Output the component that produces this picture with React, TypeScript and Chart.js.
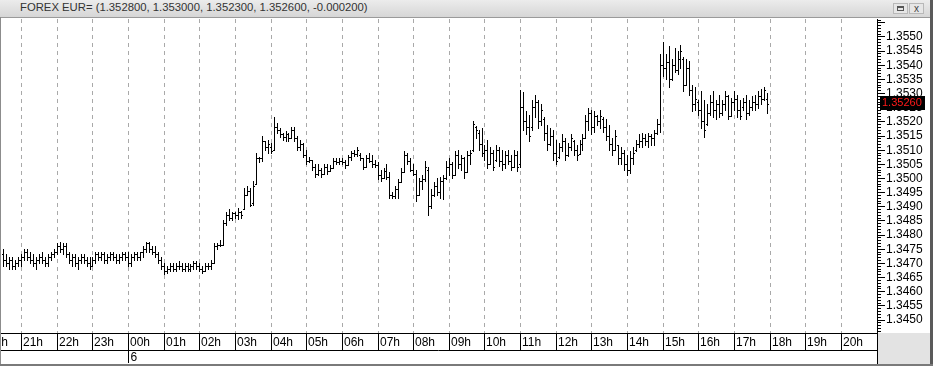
import { useEffect, useRef } from 'react';
import { Chart, registerables } from 'chart.js';

Chart.register(...registerables);

// [open, high, low, close] – 5 minute bars, EUR= forex
type Bar = [number, number, number, number];

const bars20h: Bar[] = [
  [1.34730, 1.34750, 1.34690, 1.34710],
  [1.34710, 1.34730, 1.34690, 1.34700],
  [1.34700, 1.34720, 1.34680, 1.34710],
  [1.34710, 1.34720, 1.34680, 1.34690],
  [1.34690, 1.34710, 1.34680, 1.34700],
  [1.34700, 1.34720, 1.34690, 1.34710],
];
const bars21h: Bar[] = [
  [1.34710, 1.34730, 1.34690, 1.34720],
  [1.34720, 1.34750, 1.34710, 1.34740],
  [1.34740, 1.34750, 1.34710, 1.34720],
  [1.34720, 1.34740, 1.34700, 1.34710],
  [1.34710, 1.34730, 1.34690, 1.34700],
  [1.34700, 1.34720, 1.34680, 1.34710],
  [1.34710, 1.34730, 1.34700, 1.34720],
  [1.34720, 1.34740, 1.34700, 1.34710],
  [1.34710, 1.34720, 1.34690, 1.34700],
  [1.34700, 1.34730, 1.34690, 1.34720],
  [1.34720, 1.34740, 1.34710, 1.34730],
  [1.34730, 1.34750, 1.34720, 1.34740],
];
const bars22h: Bar[] = [
  [1.34740, 1.34770, 1.34730, 1.34760],
  [1.34760, 1.34775, 1.34740, 1.34750],
  [1.34750, 1.34770, 1.34730, 1.34760],
  [1.34760, 1.34770, 1.34720, 1.34730],
  [1.34730, 1.34740, 1.34700, 1.34710],
  [1.34710, 1.34730, 1.34690, 1.34720],
  [1.34720, 1.34730, 1.34690, 1.34700],
  [1.34700, 1.34720, 1.34680, 1.34710],
  [1.34710, 1.34730, 1.34700, 1.34720],
  [1.34720, 1.34730, 1.34700, 1.34710],
  [1.34710, 1.34720, 1.34690, 1.34700],
  [1.34700, 1.34720, 1.34680, 1.34690],
];
const bars23h: Bar[] = [
  [1.34690, 1.34720, 1.34690, 1.34710],
  [1.34710, 1.34740, 1.34700, 1.34730],
  [1.34730, 1.34740, 1.34710, 1.34720],
  [1.34720, 1.34740, 1.34710, 1.34730],
  [1.34730, 1.34740, 1.34700, 1.34710],
  [1.34710, 1.34730, 1.34700, 1.34720],
  [1.34720, 1.34740, 1.34710, 1.34730],
  [1.34730, 1.34740, 1.34710, 1.34720],
  [1.34720, 1.34730, 1.34700, 1.34710],
  [1.34710, 1.34730, 1.34700, 1.34720],
  [1.34720, 1.34740, 1.34710, 1.34730],
  [1.34730, 1.34740, 1.34710, 1.34720],
];
const bars00h: Bar[] = [
  [1.34720, 1.34740, 1.34690, 1.34700],
  [1.34700, 1.34730, 1.34690, 1.34720],
  [1.34720, 1.34740, 1.34710, 1.34730],
  [1.34730, 1.34740, 1.34710, 1.34720],
  [1.34720, 1.34740, 1.34710, 1.34740],
  [1.34740, 1.34760, 1.34720, 1.34750],
  [1.34750, 1.34775, 1.34740, 1.34770],
  [1.34770, 1.34775, 1.34740, 1.34750],
  [1.34750, 1.34760, 1.34730, 1.34740],
  [1.34740, 1.34760, 1.34720, 1.34730],
  [1.34730, 1.34740, 1.34700, 1.34710],
  [1.34710, 1.34720, 1.34680, 1.34690],
];
const bars01h: Bar[] = [
  [1.34690, 1.34700, 1.34660, 1.34670],
  [1.34670, 1.34690, 1.34665, 1.34680],
  [1.34680, 1.34700, 1.34670, 1.34690],
  [1.34690, 1.34700, 1.34670, 1.34680],
  [1.34680, 1.34700, 1.34670, 1.34690],
  [1.34690, 1.34705, 1.34680, 1.34690],
  [1.34690, 1.34700, 1.34670, 1.34680],
  [1.34680, 1.34700, 1.34670, 1.34690],
  [1.34690, 1.34700, 1.34670, 1.34680],
  [1.34680, 1.34695, 1.34670, 1.34690],
  [1.34690, 1.34705, 1.34680, 1.34700],
  [1.34700, 1.34705, 1.34680, 1.34690],
];
const bars02h: Bar[] = [
  [1.34690, 1.34700, 1.34670, 1.34680],
  [1.34680, 1.34690, 1.34665, 1.34670],
  [1.34670, 1.34700, 1.34670, 1.34690],
  [1.34690, 1.34700, 1.34680, 1.34690],
  [1.34690, 1.34710, 1.34680, 1.34700],
  [1.34700, 1.34770, 1.34700, 1.34760],
  [1.34760, 1.34770, 1.34750, 1.34765],
  [1.34765, 1.34780, 1.34760, 1.34765],
  [1.34765, 1.34850, 1.34765, 1.34840],
  [1.34840, 1.34880, 1.34835, 1.34870],
  [1.34870, 1.34890, 1.34850, 1.34860],
  [1.34860, 1.34880, 1.34850, 1.34875],
];
const bars03h: Bar[] = [
  [1.34875, 1.34880, 1.34860, 1.34870],
  [1.34870, 1.34895, 1.34855, 1.34880],
  [1.34880, 1.34885, 1.34860, 1.34870],
  [1.34890, 1.34965, 1.34890, 1.34940],
  [1.34940, 1.34970, 1.34940, 1.34955],
  [1.34955, 1.34965, 1.34900, 1.34905],
  [1.34910, 1.34990, 1.34905, 1.34970],
  [1.34980, 1.35090, 1.34980, 1.35070],
  [1.35070, 1.35075, 1.35055, 1.35070],
  [1.35070, 1.35150, 1.35060, 1.35130],
  [1.35130, 1.35130, 1.35100, 1.35110],
  [1.35110, 1.35135, 1.35090, 1.35120],
];
const bars04h: Bar[] = [
  [1.35110, 1.35125, 1.35090, 1.35095],
  [1.35100, 1.35214, 1.35100, 1.35180],
  [1.35180, 1.35195, 1.35160, 1.35170],
  [1.35170, 1.35178, 1.35145, 1.35155],
  [1.35155, 1.35160, 1.35136, 1.35145],
  [1.35145, 1.35165, 1.35130, 1.35155],
  [1.35155, 1.35158, 1.35130, 1.35140],
  [1.35140, 1.35180, 1.35140, 1.35170],
  [1.35170, 1.35180, 1.35130, 1.35140],
  [1.35140, 1.35150, 1.35100, 1.35110],
  [1.35110, 1.35135, 1.35100, 1.35120],
  [1.35120, 1.35125, 1.35075, 1.35080],
];
const bars05h: Bar[] = [
  [1.35080, 1.35100, 1.35050, 1.35060],
  [1.35060, 1.35075, 1.35055, 1.35065],
  [1.35065, 1.35065, 1.35030, 1.35040],
  [1.35040, 1.35050, 1.35005, 1.35015],
  [1.35015, 1.35048, 1.35012, 1.35030],
  [1.35030, 1.35037, 1.35005, 1.35015],
  [1.35015, 1.35048, 1.35015, 1.35040],
  [1.35040, 1.35050, 1.35015, 1.35025],
  [1.35025, 1.35045, 1.35023, 1.35035],
  [1.35035, 1.35070, 1.35035, 1.35060],
  [1.35060, 1.35070, 1.35048, 1.35055],
  [1.35055, 1.35070, 1.35048, 1.35060],
];
const bars06h: Bar[] = [
  [1.35060, 1.35070, 1.35050, 1.35055],
  [1.35055, 1.35065, 1.35037, 1.35045],
  [1.35045, 1.35083, 1.35045, 1.35075],
  [1.35075, 1.35097, 1.35065, 1.35090],
  [1.35090, 1.35100, 1.35076, 1.35085],
  [1.35085, 1.35108, 1.35076, 1.35100],
  [1.35080, 1.35090, 1.35065, 1.35070],
  [1.35070, 1.35070, 1.35033, 1.35040],
  [1.35040, 1.35080, 1.35040, 1.35070],
  [1.35070, 1.35090, 1.35055, 1.35060],
  [1.35060, 1.35083, 1.35040, 1.35050],
  [1.35050, 1.35065, 1.35040, 1.35045],
];
const bars07h: Bar[] = [
  [1.35045, 1.35055, 1.34995, 1.35010],
  [1.35010, 1.35030, 1.34990, 1.35000],
  [1.35000, 1.35037, 1.35000, 1.35025],
  [1.35025, 1.35048, 1.34995, 1.35005],
  [1.35005, 1.35020, 1.34930, 1.34940],
  [1.34940, 1.34949, 1.34931, 1.34935],
  [1.34935, 1.34970, 1.34930, 1.34960],
  [1.34960, 1.34995, 1.34930, 1.34985],
  [1.34985, 1.35035, 1.34985, 1.35020],
  [1.35020, 1.35094, 1.35020, 1.35080],
  [1.35080, 1.35090, 1.35048, 1.35060],
  [1.35060, 1.35070, 1.35023, 1.35030],
];
const bars08h: Bar[] = [
  [1.35030, 1.35048, 1.35010, 1.35015],
  [1.35015, 1.35030, 1.34917, 1.34940],
  [1.34940, 1.35000, 1.34940, 1.34990],
  [1.34990, 1.35010, 1.34960, 1.34995],
  [1.34995, 1.35060, 1.34990, 1.35040],
  [1.35030, 1.35040, 1.34870, 1.34900],
  [1.34900, 1.34960, 1.34895, 1.34940],
  [1.34940, 1.34985, 1.34935, 1.34970],
  [1.34970, 1.35000, 1.34940, 1.34950],
  [1.34950, 1.35005, 1.34930, 1.34990],
  [1.34990, 1.35010, 1.34925, 1.35000],
  [1.35000, 1.35060, 1.34995, 1.35040],
];
const bars09h: Bar[] = [
  [1.35040, 1.35070, 1.35010, 1.35050],
  [1.35050, 1.35058, 1.35000, 1.35010],
  [1.35010, 1.35094, 1.35010, 1.35080],
  [1.35080, 1.35100, 1.35037, 1.35050],
  [1.35050, 1.35083, 1.35030, 1.35070],
  [1.35070, 1.35075, 1.35000, 1.35020],
  [1.35020, 1.35094, 1.35020, 1.35080],
  [1.35080, 1.35100, 1.35048, 1.35090],
  [1.35100, 1.35200, 1.35094, 1.35190],
  [1.35180, 1.35185, 1.35140, 1.35170],
  [1.35160, 1.35170, 1.35100, 1.35120],
  [1.35120, 1.35175, 1.35076, 1.35090],
];
const bars10h: Bar[] = [
  [1.35090, 1.35118, 1.35065, 1.35100],
  [1.35100, 1.35136, 1.35037, 1.35050],
  [1.35050, 1.35108, 1.35048, 1.35090],
  [1.35090, 1.35100, 1.35030, 1.35040],
  [1.35065, 1.35118, 1.35060, 1.35100],
  [1.35100, 1.35108, 1.35044, 1.35060],
  [1.35060, 1.35100, 1.35030, 1.35050],
  [1.35050, 1.35094, 1.35037, 1.35080],
  [1.35080, 1.35100, 1.35048, 1.35060],
  [1.35060, 1.35083, 1.35030, 1.35040],
  [1.35040, 1.35100, 1.35040, 1.35080],
  [1.35080, 1.35094, 1.35023, 1.35040],
];
const bars11h: Bar[] = [
  [1.35050, 1.35310, 1.35040, 1.35250],
  [1.35250, 1.35304, 1.35170, 1.35200],
  [1.35200, 1.35235, 1.35154, 1.35180],
  [1.35180, 1.35224, 1.35130, 1.35150],
  [1.35180, 1.35277, 1.35170, 1.35250],
  [1.35250, 1.35295, 1.35214, 1.35270],
  [1.35270, 1.35277, 1.35178, 1.35200],
  [1.35200, 1.35260, 1.35189, 1.35240],
  [1.35210, 1.35214, 1.35136, 1.35160],
  [1.35160, 1.35189, 1.35100, 1.35120],
  [1.35120, 1.35178, 1.35118, 1.35150],
  [1.35150, 1.35170, 1.35065, 1.35090],
];
const bars12h: Bar[] = [
  [1.35090, 1.35136, 1.35048, 1.35060],
  [1.35075, 1.35125, 1.35072, 1.35110],
  [1.35110, 1.35154, 1.35094, 1.35130],
  [1.35130, 1.35143, 1.35065, 1.35080],
  [1.35080, 1.35125, 1.35076, 1.35110],
  [1.35110, 1.35154, 1.35100, 1.35140],
  [1.35130, 1.35136, 1.35083, 1.35100],
  [1.35100, 1.35118, 1.35065, 1.35080],
  [1.35085, 1.35136, 1.35085, 1.35120],
  [1.35120, 1.35154, 1.35100, 1.35140],
  [1.35143, 1.35224, 1.35143, 1.35200],
  [1.35200, 1.35249, 1.35171, 1.35230],
];
const bars13h: Bar[] = [
  [1.35230, 1.35242, 1.35154, 1.35180],
  [1.35180, 1.35235, 1.35164, 1.35220],
  [1.35220, 1.35224, 1.35189, 1.35200],
  [1.35200, 1.35242, 1.35178, 1.35220],
  [1.35210, 1.35214, 1.35164, 1.35180],
  [1.35180, 1.35207, 1.35136, 1.35150],
  [1.35150, 1.35189, 1.35100, 1.35120],
  [1.35120, 1.35143, 1.35083, 1.35100],
  [1.35100, 1.35171, 1.35100, 1.35150],
  [1.35115, 1.35118, 1.35048, 1.35070],
  [1.35070, 1.35108, 1.35048, 1.35090],
  [1.35090, 1.35100, 1.35030, 1.35050],
];
const bars14h: Bar[] = [
  [1.35050, 1.35083, 1.35012, 1.35030],
  [1.35030, 1.35094, 1.35019, 1.35070],
  [1.35070, 1.35108, 1.35048, 1.35090],
  [1.35100, 1.35136, 1.35094, 1.35120],
  [1.35120, 1.35154, 1.35110, 1.35130],
  [1.35130, 1.35160, 1.35111, 1.35140],
  [1.35140, 1.35154, 1.35118, 1.35130],
  [1.35130, 1.35160, 1.35110, 1.35150],
  [1.35150, 1.35154, 1.35118, 1.35140],
  [1.35140, 1.35171, 1.35118, 1.35160],
  [1.35160, 1.35207, 1.35154, 1.35190],
  [1.35190, 1.35437, 1.35161, 1.35400],
];
const bars15h: Bar[] = [
  [1.35400, 1.35479, 1.35359, 1.35390],
  [1.35390, 1.35437, 1.35350, 1.35410],
  [1.35410, 1.35465, 1.35323, 1.35350],
  [1.35350, 1.35419, 1.35348, 1.35400],
  [1.35400, 1.35460, 1.35376, 1.35380],
  [1.35380, 1.35447, 1.35366, 1.35420],
  [1.35420, 1.35470, 1.35390, 1.35450],
  [1.35420, 1.35426, 1.35306, 1.35330],
  [1.35330, 1.35419, 1.35330, 1.35390],
  [1.35390, 1.35412, 1.35295, 1.35310],
  [1.35310, 1.35330, 1.35235, 1.35260],
  [1.35260, 1.35320, 1.35242, 1.35280],
];
const bars16h: Bar[] = [
  [1.35270, 1.35277, 1.35224, 1.35240],
  [1.35240, 1.35306, 1.35178, 1.35200],
  [1.35200, 1.35277, 1.35146, 1.35170],
  [1.35190, 1.35260, 1.35189, 1.35230],
  [1.35230, 1.35295, 1.35224, 1.35270],
  [1.35270, 1.35306, 1.35214, 1.35240],
  [1.35240, 1.35277, 1.35207, 1.35260],
  [1.35260, 1.35295, 1.35214, 1.35230],
  [1.35230, 1.35277, 1.35224, 1.35260],
  [1.35260, 1.35306, 1.35242, 1.35290],
  [1.35290, 1.35295, 1.35207, 1.35220],
  [1.35220, 1.35284, 1.35220, 1.35270],
];
const bars17h: Bar[] = [
  [1.35270, 1.35306, 1.35242, 1.35280],
  [1.35280, 1.35295, 1.35214, 1.35240],
  [1.35240, 1.35277, 1.35207, 1.35220],
  [1.35250, 1.35284, 1.35242, 1.35270],
  [1.35270, 1.35295, 1.35207, 1.35230],
  [1.35230, 1.35277, 1.35224, 1.35250],
  [1.35250, 1.35288, 1.35242, 1.35270],
  [1.35270, 1.35295, 1.35242, 1.35260],
  [1.35260, 1.35306, 1.35249, 1.35290],
  [1.35290, 1.35313, 1.35260, 1.35280],
  [1.35280, 1.35323, 1.35277, 1.35310],
  [1.35280, 1.35300, 1.35230, 1.35260],
];

// time axis: minutes after 20:00 of the previous day
const firstBarMinute = 30; // 20:30
const barMinutes = 5;
const axisMinMinute = 26;
const axisMaxMinute = 1500; // 21:00
const hourLabels = ['20h', '21h', '22h', '23h', '00h', '01h', '02h', '03h', '04h', '05h', '06h', '07h', '08h',
  '09h', '10h', '11h', '12h', '13h', '14h', '15h', '16h', '17h', '18h', '19h', '20h'];
const dayLabel = '6';
const dayLabelMinute = 240;

// price axis
const priceMin = 1.344541;
const priceMax = 1.355636;
const priceLabelStep = 0.0005;
const lastPrice = 1.3526;
const lastPriceText = '1.35260';
const titleText = 'FOREX EUR= (1.352800, 1.353000, 1.352300, 1.352600, -0.000200)';

const FONT = "'Liberation Sans', Arial, sans-serif";

const allBars: Bar[] = [
  ...bars20h, ...bars21h, ...bars22h, ...bars23h, ...bars00h, ...bars01h, ...bars02h, ...bars03h,
  ...bars04h, ...bars05h, ...bars06h, ...bars07h, ...bars08h, ...bars09h, ...bars10h, ...bars11h,
  ...bars12h, ...bars13h, ...bars14h, ...bars15h, ...bars16h, ...bars17h,
];
const barTimes = allBars.map((_, i) => firstBarMinute + i * barMinutes);

const snapPlugin = {
  id: 'snapOhlc',
  beforeDatasetsDraw(chart: any) {
    const barMeta = chart.getDatasetMeta(0);
    const openMeta = chart.getDatasetMeta(1);
    const closeMeta = chart.getDatasetMeta(2);
    barMeta.data.forEach((el: any, i: number) => {
      const col = Math.floor(el.x);
      el.x = col + 0.5;
      const top = Math.floor(Math.min(el.y, el.base));
      const bottom = Math.floor(Math.max(el.y, el.base)) + 1;
      el.y = top;
      el.base = bottom;
      const o = openMeta.data[i];
      const c = closeMeta.data[i];
      if (o) { o.x = col - 0.5; o.y = Math.floor(o.y) + 0.5; }
      if (c) { c.x = col + 1.5; c.y = Math.floor(c.y) + 0.5; }
    });
  },
};

const decorPlugin = {
  id: 'decor',
  afterDraw(chart: any) {
    const { ctx, chartArea, scales } = chart;
    const xs = scales.x;
    const ys = scales.y;
    const W = chart.width;
    const H = chart.height;
    const right = chartArea.right;
    const bottom = chartArea.bottom;
    const rowBottom = bottom + 17;
    ctx.save();
    // gray corner box
    ctx.fillStyle = '#e3e3e3';
    ctx.fillRect(right, bottom, W - right, H - bottom);

    ctx.strokeStyle = '#000';
    ctx.lineWidth = 1;
    ctx.beginPath();
    ctx.moveTo(0, bottom + 0.5);
    ctx.lineTo(right + 1, bottom + 0.5);
    ctx.moveTo(0, rowBottom + 0.5);
    ctx.lineTo(right, rowBottom + 0.5);
    // right axis line
    ctx.moveTo(right + 0.5, chartArea.top);
    ctx.lineTo(right + 0.5, H - 2);
    ctx.stroke();

    // hour separators and labels
    ctx.font = `12px ${FONT}`;
    ctx.fillStyle = '#000';
    ctx.textBaseline = 'middle';
    ctx.textAlign = 'left';
    hourLabels.forEach((lab, k) => {
      const px = Math.floor(xs.getPixelForValue(k * 60)) + 0.5;
      if (px > right) return;
      if (px >= 0) {
        ctx.beginPath();
        ctx.moveTo(px, bottom);
        ctx.lineTo(px, rowBottom);
        ctx.stroke();
      }
      ctx.fillText(lab, px + 1.5, bottom + 9.5);
    });
    // day row
    const dpx = Math.floor(xs.getPixelForValue(dayLabelMinute)) + 0.5;
    ctx.beginPath();
    ctx.moveTo(dpx, rowBottom);
    ctx.lineTo(dpx, H - 3);
    ctx.stroke();
    ctx.fillText(dayLabel, dpx + 2, rowBottom + 7.5);

    // price ruler
    ctx.beginPath();
    for (let k = 13445; k <= 13557; k++) {
      const v = k / 10000;
      if (v < priceMin || v > priceMax) continue;
      const py = Math.floor(ys.getPixelForValue(v)) + 0.5;
      const len = k % 5 === 0 ? 7 : 3;
      ctx.moveTo(right, py);
      ctx.lineTo(right + 1 + len, py);
    }
    ctx.stroke();

    // last price flag
    const lp = Math.round(ys.getPixelForValue(lastPrice));
    ctx.fillStyle = '#000';
    ctx.fillRect(right + 3, lp - 9, 45, 14);
    ctx.fillStyle = '#ff1a1a';
    ctx.font = `11px ${FONT}`;
    ctx.fillText(lastPriceText, right + 5, lp - 2);
    ctx.restore();
  },
};

export default function App() {
  const ref = useRef<HTMLCanvasElement | null>(null);

  useEffect(() => {
    const canvas = ref.current;
    if (!canvas) return;
    const barData = allBars.map((b, i) => ({ x: barTimes[i], y: [b[2], b[1]] }));
    const openData = allBars.map((b, i) => ({ x: barTimes[i] - 1.2, y: b[0] }));
    const closeData = allBars.map((b, i) => ({ x: barTimes[i] + 1.2, y: b[3] }));

    const chart = new Chart(canvas, {
      type: 'bar',
      data: {
        datasets: [
          {
            type: 'bar',
            data: barData as any,
            backgroundColor: '#000',
            barThickness: 1,
            grouped: false,
            borderWidth: 0,
            inflateAmount: 0,
          } as any,
          {
            type: 'line',
            data: openData as any,
            showLine: false,
            pointStyle: 'line',
            pointRadius: 0.5,
            pointHoverRadius: 0.5,
            pointBorderWidth: 1,
            pointBorderColor: '#000',
            pointBackgroundColor: '#000',
          } as any,
          {
            type: 'line',
            data: closeData as any,
            showLine: false,
            pointStyle: 'line',
            pointRadius: 0.5,
            pointHoverRadius: 0.5,
            pointBorderWidth: 1,
            pointBorderColor: '#000',
            pointBackgroundColor: '#000',
          } as any,
        ],
      },
      options: {
        responsive: false,
        animation: false,
        devicePixelRatio: 1,
        events: [],
        layout: { padding: { top: 19, left: 0, right: 0, bottom: 0 } },
        plugins: { legend: { display: false }, tooltip: { enabled: false } },
        scales: {
          x: {
            type: 'linear',
            min: axisMinMinute,
            max: axisMaxMinute,
            offset: false,
            afterFit: (s: any) => { s.height = 33; },
            grid: { offset: false, color: '#a9a9a9', lineWidth: 1, drawTicks: false },
            border: { display: false, dash: [4, 4] },
            ticks: { stepSize: 60, includeBounds: false, display: false, autoSkip: false },
          },
          y: {
            type: 'linear',
            position: 'right',
            min: priceMin,
            max: priceMax,
            afterFit: (s: any) => { s.width = 56; },
            grid: { display: false, drawTicks: false },
            border: { display: false },
            ticks: {
              stepSize: priceLabelStep,
              includeBounds: false,
              autoSkip: false,
              padding: 9,
              color: '#000',
              font: { family: FONT, size: 12 },
              callback: (v: any) => (Number(v) > 1.35505 ? '' : Number(v).toFixed(4)),
            },
          },
        },
      } as any,
      plugins: [snapPlugin, decorPlugin],
    });
    return () => chart.destroy();
  }, []);

  return (
    <div style={{ position: 'absolute', left: 0, top: 0, width: 933, height: 366, background: '#fff', overflow: 'hidden' }}>
      <canvas ref={ref} width={933} height={366} style={{ position: 'absolute', left: 0, top: 0, width: 933, height: 366 }} />
      <div
        style={{
          position: 'absolute', left: 0, top: 0, width: 933, height: 17,
          background: 'linear-gradient(#ececec, #d6d6d6)', borderBottom: '1px solid #9a9a9a',
        }}
      >
        <span style={{ position: 'absolute', left: 20, top: 1, fontFamily: FONT, fontSize: 11.3, color: '#333', whiteSpace: 'nowrap' }}>
          {titleText}
        </span>
        <div style={{ position: 'absolute', left: 893, top: 3, width: 15, height: 11, background: '#e6e6e6', border: '1px solid #b8b8b8', boxSizing: 'border-box' }}>
          <div style={{ position: 'absolute', left: 3, top: 2, width: 7, height: 5, border: '1px solid #555', borderTopWidth: 2, boxSizing: 'border-box' }} />
        </div>
        <div style={{ position: 'absolute', left: 909, top: 3, width: 15, height: 11, background: '#e6e6e6', border: '1px solid #b8b8b8', boxSizing: 'border-box', fontFamily: FONT, fontSize: 10, lineHeight: '9px', textAlign: 'center', color: '#444' }}>
          x
        </div>
      </div>
      <div style={{ position: 'absolute', left: 0, top: 17, width: 1, height: 349, background: '#8c8c8c' }} />
      <div style={{ position: 'absolute', left: 930, top: 0, width: 3, height: 366, background: '#5a5a5a' }} />
      <div style={{ position: 'absolute', left: 0, top: 364, width: 933, height: 2, background: '#7a7a7a' }} />
    </div>
  );
}
